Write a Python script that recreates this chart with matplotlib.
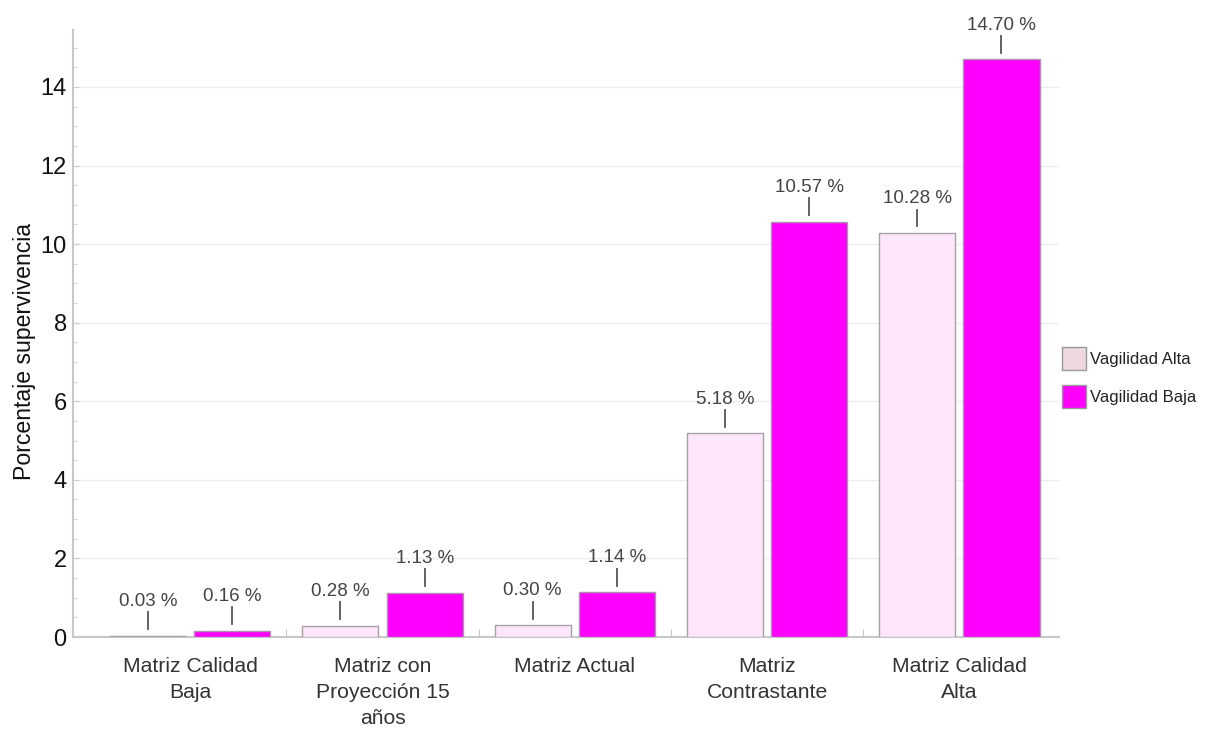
import matplotlib
matplotlib.use("Agg")
import matplotlib.pyplot as plt
import numpy as np
from matplotlib.ticker import MultipleLocator, FixedLocator

categories = ["Matriz Calidad\nBaja", "Matriz con\nProyección 15\naños", "Matriz Actual",
              "Matriz\nContrastante", "Matriz Calidad\nAlta"]
vagilidad_alta = [0.03, 0.28, 0.30, 5.18, 10.28]
vagilidad_baja = [0.16, 1.13, 1.14, 10.57, 14.70]
series_labels = ["Vagilidad Alta", "Vagilidad Baja"]

plt.rcParams['font.family'] = ['Liberation Sans', 'DejaVu Sans']

fig = plt.figure(figsize=(12.1, 7.29), dpi=100)
ax = fig.add_axes([0.0603, 0.1262, 0.8152, 0.8326])

x = np.arange(len(categories))
w = 0.396
off = 0.219
b1 = ax.bar(x - off, vagilidad_alta, w, color="#fde6fa", edgecolor="#a8a0a8", linewidth=1.0,
            label=series_labels[0], zorder=3)
b2 = ax.bar(x + off, vagilidad_baja, w, color="#ff00ff", edgecolor="#b090b0", linewidth=1.0,
            label=series_labels[1], zorder=3)

ax.set_xlim(-0.61, 4.52)
ax.set_ylim(0, 15.45)

# value labels with a short leader line above each bar
for xs, vals in ((x - off, vagilidad_alta), (x + off, vagilidad_baja)):
    for xi, v in zip(xs, vals):
        ax.plot([xi, xi], [v + 0.17, v + 0.6], color="#555555", lw=1.3, zorder=4,
                clip_on=False)
        ax.text(xi, v + 0.66, f"{v:.2f} %", ha="center", va="bottom", fontsize=13.5,
                color="#444444", zorder=4)

ax.yaxis.set_major_locator(MultipleLocator(2))
ax.yaxis.set_minor_locator(MultipleLocator(0.5))
ax.set_xticks(x)
ax.set_xticklabels(categories, fontsize=15.2, color="#333333", linespacing=1.45)
ax.xaxis.set_minor_locator(FixedLocator(x[:-1] + 0.5))
ax.tick_params(axis="x", which="major", length=0, pad=14.5)
ax.tick_params(axis="x", which="minor", direction="in", length=6, color="#bbbbbb")
ax.tick_params(axis="y", which="major", direction="in", length=4, color="#cccccc",
               labelsize=17, labelcolor="#111111", pad=4.5)
ax.tick_params(axis="y", which="minor", direction="in", length=3, color="#cccccc")

ax.grid(axis="y", which="major", color="#ececec", lw=1.0, zorder=0)
for s in ("top", "right"):
    ax.spines[s].set_visible(False)
for s in ("left", "bottom"):
    ax.spines[s].set_color("#c8c8c8")
    ax.spines[s].set_linewidth(1.5)

ax.set_ylabel("Porcentaje supervivencia", fontsize=16.6, color="#111111")
ax.yaxis.set_label_coords(-0.0375, 0.471)

leg = fig.legend(handles=[b1, b2], labels=series_labels, loc="upper left",
                 bbox_to_anchor=(0.865, 0.5446), frameon=False, fontsize=12,
                 handlelength=1.44, handleheight=1.75, handletextpad=0.25, labelspacing=0.9)
leg.legend_handles[0].set_facecolor("#eed8e2")
leg.legend_handles[0].set_edgecolor("#999999")
leg.legend_handles[1].set_edgecolor("#999999")
for t in leg.get_texts():
    t.set_color("#222222")

fig.savefig("out.png", dpi=100, facecolor="white")
